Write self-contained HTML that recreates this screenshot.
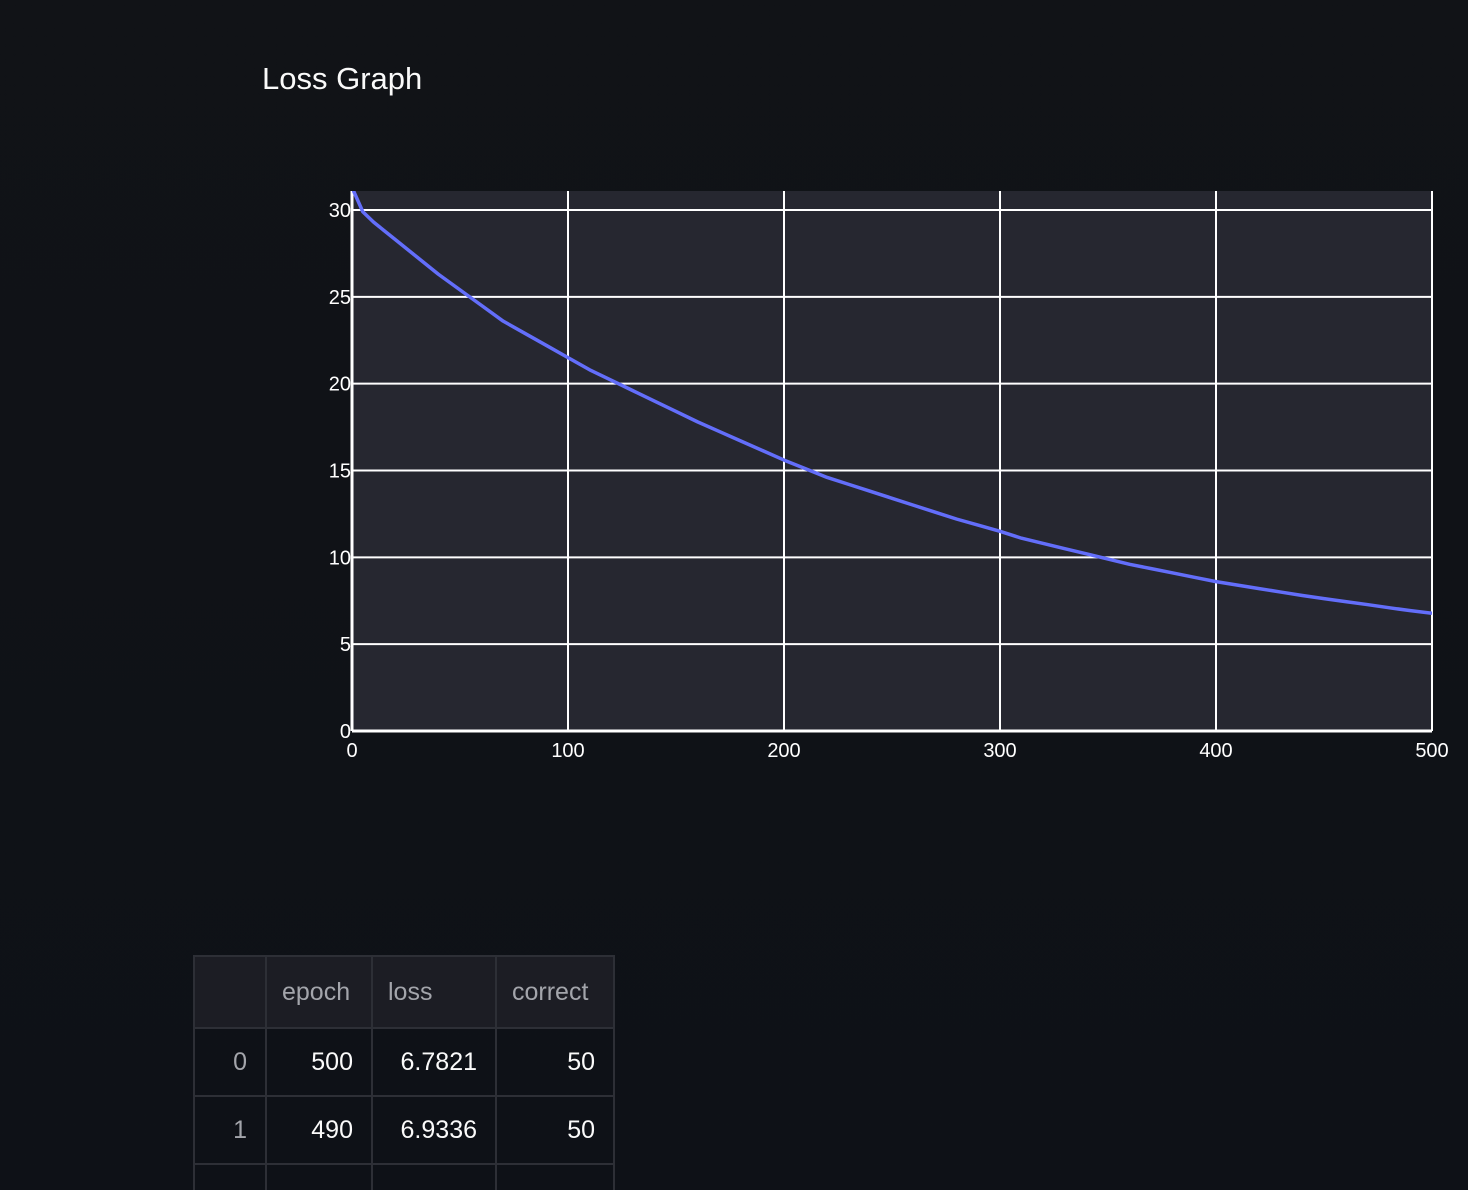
<!DOCTYPE html>
<html style="overflow:hidden;height:1190px"><head><meta charset="utf-8"><style>
body{margin:0;width:1468px;height:1190px;background:linear-gradient(#111317,#0e1117);font-family:"Liberation Sans","DejaVu Sans",sans-serif;overflow:hidden;position:relative;color:#fafafa}
h1{position:absolute;left:262px;top:61px;margin:0;font-size:31px;font-weight:normal}
table{position:absolute;left:193px;top:955px;border-collapse:collapse;font-size:25px;table-layout:fixed}
td,th{border:2px solid #2d2f36;height:68px;padding:0 18px;text-align:right;font-weight:normal;box-sizing:border-box}
th{background:#1c1d24;color:#a3a5ab;text-align:left;padding:0 15px;height:72px}
td.i{color:#a3a5ab}
</style></head><body>
<h1>Loss Graph</h1>
<svg id="c" width="1468" height="900" style="position:absolute;left:0;top:0"></svg>
<table>
<colgroup><col style="width:72px"><col style="width:106px"><col style="width:124px"><col style="width:118px"></colgroup>
<tr><th></th><th>epoch</th><th>loss</th><th>correct</th></tr>
<tr><td class="i">0</td><td>500</td><td>6.7821</td><td>50</td></tr>
<tr><td class="i">1</td><td>490</td><td>6.9336</td><td>50</td></tr>
<tr><td></td><td></td><td></td><td></td></tr>
</table>
<script>
const epochs=[0,5,10,20,30,40,50,60,70,80,90,100,110,120,130,140,150,160,170,180,190,200,210,220,230,240,250,260,270,280,290,300,310,320,330,340,350,360,370,380,390,400,410,420,430,440,450,460,470,480,490,500];
const losses=[31.3,29.9,29.3,28.3,27.3,26.3,25.4,24.5,23.6,22.9,22.2,21.5,20.8,20.2,19.6,19.0,18.4,17.8,17.25,16.7,16.15,15.6,15.1,14.6,14.2,13.8,13.4,13.0,12.6,12.2,11.85,11.5,11.1,10.8,10.5,10.2,9.9,9.6,9.35,9.1,8.85,8.6,8.4,8.2,8.0,7.8,7.62,7.45,7.28,7.1,6.93,6.78];
const xTicks=[0,100,200,300,400,500];
const yTicks=[0,5,10,15,20,25,30];
const L=352,R=1432,T=191,B=731;
const X=v=>L+(v-0)/500*(R-L);
const Y=v=>B-v/30*(B-210);
const svg=document.getElementById('c');
const NS='http://www.w3.org/2000/svg';
function mk(t,a,parent){const e=document.createElementNS(NS,t);for(const k in a)e.setAttribute(k,a[k]);(parent||svg).appendChild(e);return e;}
let bg=mk('rect',{x:L,y:T,width:R-L,height:B-T,fill:'#262730'});


const cp=mk('clipPath',{id:'cp'});
mk('rect',{x:L,y:T,width:R-L,height:B-T},cp);
xTicks.forEach(v=>{let g=mk('line',{x1:X(v),x2:X(v),y1:T,y2:B,stroke:'#fff','stroke-width':v===0?3:2});


let t=mk('text',{x:X(v),y:B+26,fill:'#fff','font-size':20,'text-anchor':'middle'});t.textContent=v;

});
yTicks.forEach(v=>{let g=mk('line',{x1:L,x2:R,y1:Y(v),y2:Y(v),stroke:'#fff','stroke-width':v===0?3:2});


let t=mk('text',{x:L-1,y:Y(v)+7,fill:'#fff','font-size':20,'text-anchor':'end'});t.textContent=v;

});
let p=mk('polyline',{points:epochs.map((e,i)=>X(e)+','+Y(losses[i])).join(' '),fill:'none',stroke:'#636efa','stroke-width':3.5,'clip-path':'url(#cp)','stroke-linejoin':'round'});


</script>
</body></html>
